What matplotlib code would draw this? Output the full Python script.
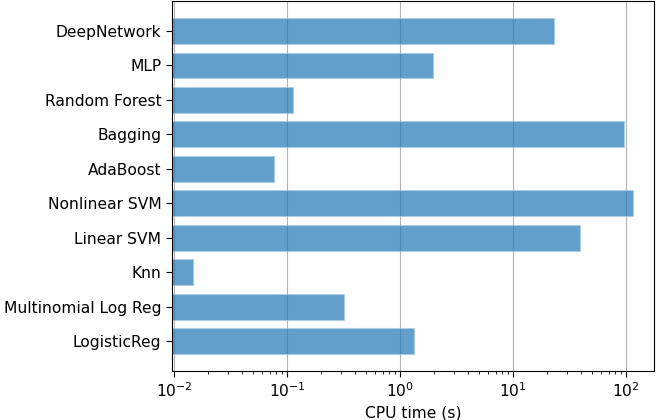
import matplotlib
matplotlib.use("Agg")
import matplotlib.pyplot as plt

# modèles et temps CPU (s), de bas en haut
models = ["LogisticReg", "Multinomial Log Reg", "Knn", "Linear SVM", "Nonlinear SVM",
          "AdaBoost", "Bagging", "Random Forest", "MLP", "DeepNetwork"]
cpu_times = [1.34, 0.318, 0.0147, 38.8, 114.6, 0.0762, 95.8, 0.113, 1.95, 22.9]

plt.rcParams["font.size"] = 11.2
plt.rcParams["xtick.major.size"] = 4
plt.rcParams["ytick.major.size"] = 4
plt.rcParams["xtick.minor.size"] = 2.3

fig, ax = plt.subplots(figsize=(6.56, 4.2), dpi=100)
ax.barh(models, cpu_times, height=0.75, color="tab:blue", alpha=0.7, edgecolor="#a9cbe6", linewidth=0.8)
ax.set_xscale("log")
ax.set_xlim(0.00953, 177)
ax.set_xlabel("CPU time (s)")
ax.grid(True, axis="x", color="grey", alpha=0.6)
ax.set_axisbelow(True)
fig.subplots_adjust(left=0.262, right=0.997, top=0.997, bottom=0.117)
fig.savefig("out.png")
